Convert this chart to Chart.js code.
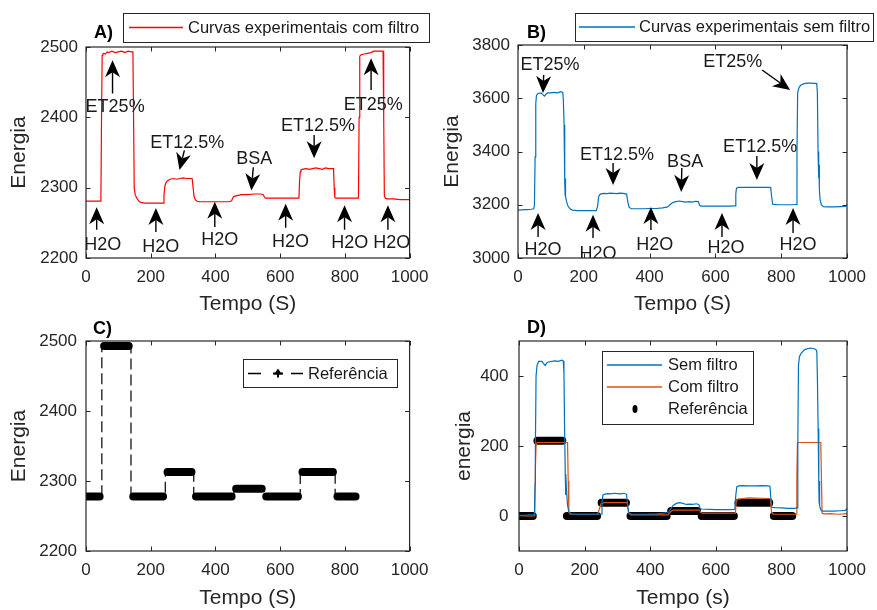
<!DOCTYPE html>
<html>
<head>
<meta charset="utf-8">
<title>Energia x Tempo</title>
<script src="https://cdn.jsdelivr.net/npm/chart.js@4/dist/chart.umd.min.js"></script>
<style>
  html, body { margin: 0; padding: 0; background: #fff; overflow: hidden; }
  #painel { position: relative; width: 877px; height: 610px; }
  canvas { position: absolute; }
</style>
</head>
<body>
<div id="painel">
  <canvas id="gA" width="438" height="320" style="left:0;top:0;width:438px;height:320px"></canvas>
  <canvas id="gB" width="439" height="320" style="left:438px;top:0;width:439px;height:320px"></canvas>
  <canvas id="gC" width="438" height="310" style="left:0;top:300px;width:438px;height:310px"></canvas>
  <canvas id="gD" width="439" height="310" style="left:438px;top:300px;width:439px;height:310px"></canvas>
</div>
<script>
// ---------- eixos ----------
const xTicks  = [0, 200, 400, 600, 800, 1000];
const yTicksA = [2200, 2300, 2400, 2500];
const yTicksB = [3000, 3200, 3400, 3600, 3800];
const yTicksC = [2200, 2300, 2400, 2500];
const yTicksD = [0, 200, 400];

// ---------- A) curva experimental com filtro ----------
const tempoA = [
  0,10,20,30,40,46,48,50,52,55,
  60,65,70,80,90,100,110,120,130,140,
  145,147,149,152,156,160,165,170,180,200,
  220,238,241,244,248,252,256,260,270,280,
  290,300,310,320,328,331,334,338,342,350,
  370,400,420,440,450,453,456,460,470,480,
  500,520,540,548,551,554,560,580,600,620,
  640,658,660,662,664,668,680,690,700,710,
  720,730,740,750,760,765,767,769,772,780,
  800,820,840,842,844,846,850,860,870,880,
  890,900,910,918,920,922,925,930,950,970,
  990,1000
];
const energiaComFiltro = [
  2281,2281,2281,2281,2281,2281,2400,2488,2490,2491,
  2490,2493,2492,2494,2492,2493,2494,2492,2494,2493,
  2493,2400,2300,2290,2286,2283,2280,2279,2278,2278,
  2278,2278,2290,2303,2308,2310,2311,2312,2313,2312,
  2313,2314,2313,2313,2313,2300,2287,2283,2281,2280,
  2280,2280,2280,2280,2281,2285,2287,2288,2289,2290,
  2290,2291,2291,2290,2287,2285,2285,2285,2285,2285,
  2285,2285,2310,2322,2325,2326,2327,2326,2327,2328,
  2327,2326,2328,2327,2327,2327,2300,2286,2285,2285,
  2285,2285,2285,2285,2400,2487,2489,2490,2491,2492,
  2494,2494,2494,2494,2400,2288,2285,2284,2284,2283,
  2283,2283
];

// ---------- B) curva experimental sem filtro ----------
const tempoB = [
  0,10,20,30,40,48,50,52,54,56,
  60,70,80,85,90,100,110,120,130,136,
  138,140,142,143,144,145,148,152,158,165,
  180,200,220,238,242,245,250,260,270,280,
  290,300,310,320,330,334,338,345,360,380,
  400,420,440,455,462,470,480,490,500,510,
  520,530,540,548,552,556,580,600,620,640,
  660,662,664,670,690,710,730,750,768,771,
  774,790,810,830,846,848,850,854,860,870,
  880,890,900,908,910,912,914,915,916,918,
  922,928,940,960,980,995,1000
];
const energiaSemFiltro = [
  3180,3181,3182,3182,3183,3185,3200,3380,3580,3610,
  3618,3620,3608,3615,3620,3620,3622,3620,3625,3622,
  3590,3500,3300,3240,3300,3230,3210,3195,3185,3180,
  3178,3178,3178,3178,3195,3230,3240,3243,3242,3244,
  3243,3242,3244,3243,3240,3210,3190,3185,3185,3185,
  3186,3186,3188,3192,3200,3208,3212,3214,3212,3210,
  3212,3210,3213,3212,3198,3195,3195,3195,3195,3195,
  3196,3240,3262,3265,3265,3265,3265,3265,3265,3230,
  3202,3200,3200,3200,3201,3400,3620,3640,3650,3655,
  3657,3657,3656,3655,3620,3400,3300,3350,3260,3220,
  3200,3193,3192,3192,3193,3194,3200
];

// ---------- C) / D) referência (patamares) ----------
const refLimites = [0, 49, 139, 245, 333, 457, 550, 662, 770, 840];
const refNiveisC = [2278, 2493, 2278, 2313, 2278, 2289, 2278, 2313, 2278];
const refNiveisD = [0, 215, 0, 38, 0, 14, 0, 38, 0];

// ---------- D) energia relativa ----------
const tempoSemD = [
  0,10,20,30,40,47,49,50,52,55,
  60,70,75,80,85,90,100,110,120,130,
  135,137,139,141,142,143,145,148,152,158,
  170,200,230,250,253,256,260,270,280,290,
  300,310,320,328,331,335,345,380,420,440,
  455,462,470,480,490,500,510,520,530,540,
  548,552,556,580,600,620,640,658,661,664,
  670,680,700,720,740,760,765,768,771,780,
  800,820,840,848,850,852,855,860,870,880,
  890,900,905,908,910,912,914,915,916,917,
  920,925,940,960,980,995,1000
];
const semFiltroD = [
  2,2,2,3,3,4,90,200,400,430,
  442,442,435,430,438,440,442,443,442,445,
  443,410,250,120,60,120,70,30,12,6,
  5,5,5,5,40,60,62,64,63,65,
  64,63,65,62,30,8,5,5,6,8,
  10,20,30,36,38,36,33,34,33,35,
  33,22,20,19,18,18,18,19,60,83,
  86,87,86,86,87,86,85,50,25,24,
  23,22,22,23,200,430,455,465,475,478,
  480,478,476,470,380,250,90,40,100,30,
  18,14,14,14,15,16,22
];
const tempoComD = [
  0,45,48,50,52,55,100,148,150,152,
  156,200,240,245,250,260,330,334,340,400,
  455,462,470,550,554,560,660,662,666,700,
  760,766,770,775,845,847,849,852,900,920,
  922,924,930,950,970,990,1000
];
const comFiltroD = [
  0,0,0,140,200,210,210,210,100,10,
  5,5,5,20,35,38,38,10,3,3,
  3,12,17,17,10,8,8,40,48,52,
  50,50,10,5,5,110,208,210,210,210,
  110,8,6,7,5,6,7
];

// ---------- anotações: [texto, xTexto, yTexto, xCauda, yCauda, xPonta, yPonta] ----------
const notasA = [
  ['ET25%',   90, 2414,  82, 2434,  82, 2481],
  ['ET12.5%', 313, 2363, 304, 2353, 289, 2325],
  ['BSA',     520, 2341, 517, 2329, 511, 2296],
  ['ET12.5%', 717, 2387, 705, 2375, 705, 2342],
  ['ET25%',   888, 2417, 881, 2439, 881, 2484],
  ['H2O',      52, 2218,  33, 2240,  33, 2272],
  ['H2O',     231, 2216, 216, 2237, 216, 2271],
  ['H2O',     413, 2226, 398, 2244, 398, 2280],
  ['H2O',     632, 2223, 617, 2243, 617, 2277],
  ['H2O',     815, 2221, 799, 2240, 799, 2275],
  ['H2O',     945, 2221, 933, 2240, 933, 2275]
];
const notasB = [
  ['ET25%',    97, 3725,  78, 3687,  76, 3620],
  ['ET12.5%', 301, 3387, 289, 3357, 289, 3274],
  ['BSA',     508, 3361, 498, 3338, 496, 3248],
  ['ET12.5%', 736, 3417, 726, 3383, 726, 3293],
  ['ET25%',   653, 3736, 742, 3706, 827, 3631],
  ['H2O',      76, 3030,  61, 3079,  61, 3169],
  ['H2O',     243, 3015, 228, 3075, 228, 3162],
  ['H2O',     416, 3049, 404, 3105, 404, 3192],
  ['H2O',     632, 3038, 620, 3079, 620, 3169],
  ['H2O',     851, 3049, 836, 3094, 836, 3188]
];

// ---------- estilo ----------
const FONTE = '"Liberation Sans", Arial, Helvetica, sans-serif';
const COR_EIXO = '#262626';
const VERMELHO = '#ff0000';
const AZUL = '#0072BD';
const LARANJA = '#D95319';

Chart.defaults.font.family = FONTE;
Chart.defaults.color = COR_EIXO;

function pares(xs, ys) { return xs.map((x, i) => ({ x: x, y: ys[i] })); }

// linha tracejada que liga os patamares
function degraus(limites, niveis) {
  const pts = [];
  niveis.forEach((v, i) => {
    pts.push({ x: limites[i], y: v });
    pts.push({ x: limites[i + 1], y: v });
  });
  return pts;
}

// patamares grossos (um segmento por nível, separados por lacunas)
function patamares(limites, niveis, recuo) {
  const pts = [];
  niveis.forEach((v, i) => {
    const a = limites[i] + (i === 0 ? 0 : recuo);
    const b = limites[i + 1] - recuo;
    pts.push({ x: a, y: v }, { x: b, y: v });
    pts.push({ x: (b + limites[i + 1]) / 2, y: null });
  });
  return pts;
}

function desenharSeta(ctx, x1, y1, x2, y2) {
  const dx = x2 - x1, dy = y2 - y1, len = Math.hypot(dx, dy);
  const ux = dx / len, uy = dy / len, nx = -uy, ny = ux;
  const L = 17, W = 7.5, N = 5;
  const bx = x2 - ux * L, by = y2 - uy * L;
  const kx = x2 - ux * (L - N), ky = y2 - uy * (L - N);
  ctx.beginPath(); ctx.moveTo(x1, y1); ctx.lineTo(kx, ky); ctx.stroke();
  ctx.beginPath();
  ctx.moveTo(x2, y2);
  ctx.lineTo(bx + nx * W, by + ny * W);
  ctx.lineTo(kx, ky);
  ctx.lineTo(bx - nx * W, by - ny * W);
  ctx.closePath(); ctx.fill();
}

// moldura, marcas internas, rótulo do painel, anotações e legenda
function moldura(cfg) {
  return {
    id: 'moldura' + cfg.rotulo,
    afterDraw(chart) {
      const ctx = chart.ctx, a = chart.chartArea;
      const sx = chart.scales.x, sy = chart.scales.y;
      ctx.save();
      // anotações (setas + textos), recortadas na área do gráfico
      if (cfg.notas) {
        ctx.save();
        ctx.beginPath(); ctx.rect(a.left, a.top, a.right - a.left, a.bottom - a.top); ctx.clip();
        ctx.strokeStyle = '#000'; ctx.fillStyle = '#000'; ctx.lineWidth = 1.4;
        ctx.font = '18px ' + FONTE; ctx.textAlign = 'center'; ctx.textBaseline = 'middle';
        cfg.notas.forEach(n => {
          desenharSeta(ctx, sx.getPixelForValue(n[3]), sy.getPixelForValue(n[4]),
                            sx.getPixelForValue(n[5]), sy.getPixelForValue(n[6]));
          ctx.fillStyle = '#1a1a1a';
          ctx.fillText(n[0], sx.getPixelForValue(n[1]), sy.getPixelForValue(n[2]));
          ctx.fillStyle = '#000';
        });
        ctx.restore();
      }
      // moldura e marcas para dentro
      ctx.strokeStyle = COR_EIXO; ctx.lineWidth = 1.2;
      ctx.strokeRect(a.left, a.top, a.right - a.left, a.bottom - a.top);
      ctx.beginPath();
      sx.ticks.forEach(t => {
        const p = Math.round(sx.getPixelForValue(t.value)) + 0.5;
        ctx.moveTo(p, a.bottom); ctx.lineTo(p, a.bottom - 4.5);
        ctx.moveTo(p, a.top); ctx.lineTo(p, a.top + 4.5);
      });
      sy.ticks.forEach(t => {
        const p = Math.round(sy.getPixelForValue(t.value)) + 0.5;
        ctx.moveTo(a.left, p); ctx.lineTo(a.left + 4.5, p);
        ctx.moveTo(a.right, p); ctx.lineTo(a.right - 4.5, p);
      });
      ctx.lineWidth = 1; ctx.stroke();
      // rótulo do painel
      ctx.fillStyle = '#000'; ctx.font = 'bold 18px ' + FONTE;
      ctx.textAlign = 'left'; ctx.textBaseline = 'middle';
      ctx.fillText(cfg.rotulo, cfg.posRotulo[0], cfg.posRotulo[1]);
      // legenda
      const lg = cfg.legenda;
      if (lg) {
        ctx.fillStyle = '#fff';
        ctx.fillRect(lg.caixa[0], lg.caixa[1], lg.caixa[2], lg.caixa[3]);
        ctx.strokeStyle = COR_EIXO; ctx.lineWidth = 1;
        ctx.strokeRect(lg.caixa[0] + 0.5, lg.caixa[1] + 0.5, lg.caixa[2], lg.caixa[3]);
        ctx.font = '16.5px ' + FONTE; ctx.textBaseline = 'middle'; ctx.textAlign = 'left';
        lg.itens.forEach(it => {
          ctx.strokeStyle = it.cor; ctx.fillStyle = it.cor; ctx.lineWidth = 1.3;
          if (it.tipo === 'linha') {
            ctx.beginPath(); ctx.moveTo(it.x1, it.y); ctx.lineTo(it.x2, it.y); ctx.stroke();
          } else if (it.tipo === 'tracoMarca') {
            ctx.beginPath();
            ctx.moveTo(it.x1, it.y); ctx.lineTo(it.x1 + 13, it.y);
            ctx.moveTo(it.x2 - 12, it.y); ctx.lineTo(it.x2, it.y);
            ctx.stroke();
            const m = it.xm;
            ctx.beginPath();
            ctx.moveTo(m, it.y - 5); ctx.lineTo(m + 4, it.y + 1); ctx.lineTo(m - 4, it.y + 1);
            ctx.closePath(); ctx.fill();
            ctx.lineWidth = 2;
            ctx.beginPath(); ctx.moveTo(m - 5, it.y); ctx.lineTo(m + 5, it.y);
            ctx.moveTo(m, it.y); ctx.lineTo(m, it.y + 4); ctx.stroke();
          } else if (it.tipo === 'ponto') {
            ctx.beginPath(); ctx.ellipse(it.xm, it.y, 2.5, 4, 0, 0, Math.PI * 2); ctx.fill();
          }
          ctx.fillStyle = '#1a1a1a';
          ctx.fillText(it.texto, it.tx, it.y + 0.5);
        });
      }
      ctx.restore();
    }
  };
}

function eixoX(titulo, alturaEixo, padTitulo) {
  return {
    type: 'linear', min: 0, max: 1000,
    afterBuildTicks: s => { s.ticks = xTicks.map(v => ({ value: v })); },
    afterFit: s => { s.height = alturaEixo; },
    grid: { display: false, drawTicks: false },
    border: { display: false },
    ticks: { autoSkip: false, maxRotation: 0, padding: 9.5, color: COR_EIXO,
             font: { size: 17, family: FONTE }, callback: v => String(v) },
    title: { display: true, text: titulo, color: COR_EIXO,
             font: { size: 21, family: FONTE }, padding: { top: 0, bottom: padTitulo } }
  };
}

function eixoY(titulo, min, max, marcas, larguraEixo, padRotulo, padTitulo) {
  return {
    type: 'linear', min: min, max: max,
    afterBuildTicks: s => { s.ticks = marcas.map(v => ({ value: v })); },
    afterFit: s => { s.width = larguraEixo; },
    grid: { display: false, drawTicks: false },
    border: { display: false },
    ticks: { autoSkip: false, padding: padRotulo, color: COR_EIXO,
             font: { size: 17, family: FONTE }, callback: v => String(v) },
    title: { display: true, text: titulo, color: COR_EIXO,
             font: { size: 21, family: FONTE }, padding: { top: padTitulo, bottom: 0 } }
  };
}

function base(datasets, scales, padding, plugin) {
  return {
    type: 'line',
    data: { datasets: datasets },
    options: {
      responsive: false, animation: false, devicePixelRatio: 1,
      layout: { padding: padding },
      plugins: { legend: { display: false }, tooltip: { enabled: false } },
      elements: { point: { radius: 0 }, line: { tension: 0 } },
      scales: scales
    },
    plugins: [plugin]
  };
}

// ---------- A ----------
new Chart(document.getElementById('gA'), base(
  [{ data: pares(tempoA, energiaComFiltro), borderColor: VERMELHO, borderWidth: 1.2 }],
  { x: eixoX('Tempo (S)', 62, 3), y: eixoY('Energia', 2200, 2500, yTicksA, 86, 8, 7) },
  { left: 0, top: 47, right: 23, bottom: 0 },
  moldura({
    rotulo: 'A)', posRotulo: [94, 33], notas: notasA,
    legenda: { caixa: [123, 13, 306, 29],
      itens: [{ tipo: 'linha', cor: VERMELHO, x1: 129, x2: 183, y: 27.5, texto: 'Curvas experimentais com filtro', tx: 188 }] }
  })
));

// ---------- B ----------
new Chart(document.getElementById('gB'), base(
  [{ data: pares(tempoB, energiaSemFiltro), borderColor: AZUL, borderWidth: 1.2 }],
  { x: eixoX('Tempo (S)', 62, 3), y: eixoY('Energia', 3000, 3800, yTicksB, 80, 8, 2) },
  { left: 0, top: 45, right: 30, bottom: 0 },
  moldura({
    rotulo: 'B)', posRotulo: [89, 33.5], notas: notasB,
    legenda: { caixa: [137, 13, 298, 28],
      itens: [{ tipo: 'linha', cor: AZUL, x1: 141, x2: 197, y: 27, texto: 'Curvas experimentais sem filtro', tx: 201 }] }
  })
));

// ---------- C ----------
new Chart(document.getElementById('gC'), base(
  [
    { data: degraus(refLimites, refNiveisC), borderColor: '#000', borderWidth: 1.2, borderDash: [11, 5] },
    { data: patamares(refLimites, refNiveisC, 7), borderColor: '#000', borderWidth: 8,
      borderCapStyle: 'round', spanGaps: false }
  ],
  { x: eixoX('Tempo (S)', 59, -1), y: eixoY('Energia', 2200, 2500, yTicksC, 86, 9, 7) },
  { left: 0, top: 41, right: 23, bottom: 0 },
  moldura({
    rotulo: 'C)', posRotulo: [93, 29],
    legenda: { caixa: [243, 59, 154, 28],
      itens: [{ tipo: 'tracoMarca', cor: '#000', x1: 248, x2: 303, xm: 278, y: 73.5, texto: 'Referência', tx: 308 }] }
  })
));

// ---------- D ----------
new Chart(document.getElementById('gD'), base(
  [
    { data: pares(tempoSemD, semFiltroD), borderColor: AZUL, borderWidth: 1.2 },
    { data: pares(tempoComD, comFiltroD), borderColor: LARANJA, borderWidth: 1.2 },
    { data: patamares(refLimites, refNiveisD, 7), borderColor: '#000', borderWidth: 8,
      borderCapStyle: 'round', spanGaps: false }
  ],
  { x: eixoX('Tempo (s)', 59, -1), y: eixoY('energia', -100, 500, yTicksD, 81, 10.5, 13.5) },
  { left: 0, top: 41, right: 30, bottom: 0 },
  moldura({
    rotulo: 'D)', posRotulo: [89, 28.5],
    legenda: { caixa: [164, 51, 151, 73],
      itens: [
        { tipo: 'linha', cor: AZUL, x1: 169, x2: 224, y: 65, texto: 'Sem filtro', tx: 230 },
        { tipo: 'linha', cor: LARANJA, x1: 169, x2: 224, y: 87, texto: 'Com filtro', tx: 230 },
        { tipo: 'ponto', cor: '#000', xm: 197, y: 109, texto: 'Referência', tx: 230 }
      ] }
  })
));
</script>
</body>
</html>
